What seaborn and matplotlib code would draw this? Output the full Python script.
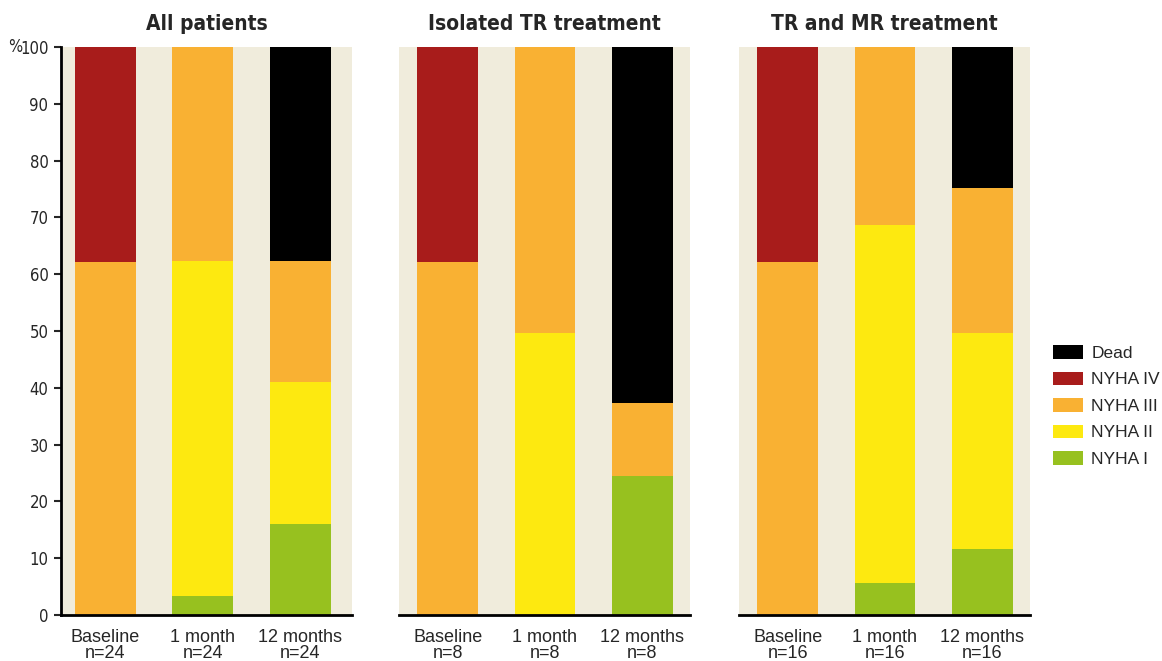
import matplotlib
matplotlib.use("Agg")
import matplotlib.pyplot as plt
import seaborn as sns
import pandas as pd
import numpy as np
from matplotlib.patches import Patch

# values (percent of patients)
timepoints = ["Baseline", "1 month", "12 months"]
panels = ["All patients", "Isolated TR treatment", "TR and MR treatment"]
n_labels = [["n=24", "n=24", "n=24"], ["n=8", "n=8", "n=8"], ["n=16", "n=16", "n=16"]]
classes = ["NYHA I", "NYHA II", "NYHA III", "NYHA IV", "Dead"]

all_I = [0, 3.4, 16.0]
all_II = [0, 59.0, 25.1]
all_III = [62.1, 37.6, 21.3]
all_IV = [37.9, 0, 0]
all_dead = [0, 0, 37.6]

iso_I = [0, 0, 24.5]
iso_II = [0, 49.7, 0]
iso_III = [62.1, 50.3, 12.9]
iso_IV = [37.9, 0, 0]
iso_dead = [0, 0, 62.6]

mr_I = [0, 5.6, 11.6]
mr_II = [0, 63.0, 38.1]
mr_III = [62.1, 31.4, 25.4]
mr_IV = [37.9, 0, 0]
mr_dead = [0, 0, 24.9]

panel_data = [
    [all_I, all_II, all_III, all_IV, all_dead],
    [iso_I, iso_II, iso_III, iso_IV, iso_dead],
    [mr_I, mr_II, mr_III, mr_IV, mr_dead],
]

colors = {"NYHA I": "#97c11f", "NYHA II": "#fde910", "NYHA III": "#f9b133",
          "NYHA IV": "#a81c1b", "Dead": "#000000"}
bg = "#f0ecdc"

sns.set_style("white")
plt.rcParams["font.family"] = ["Liberation Sans", "DejaVu Sans"]
cond = dict(family="DejaVu Sans", stretch="condensed")

fig = plt.figure(figsize=(11.62, 6.61), dpi=100)
lefts = [61 / 1162, 399 / 1162, 739 / 1162]
bottom = 46 / 661
height = 568 / 661
width = 291 / 1162
xlims = [(-0.455, 2.53), (-0.5, 2.49), (-0.5, 2.49)]

for i, (title, vals) in enumerate(zip(panels, panel_data)):
    ax = fig.add_axes([lefts[i], bottom, width, height])
    ax.set_facecolor(bg)
    df = pd.DataFrame({"time": timepoints})
    cum = np.zeros(3)
    for cls, v in zip(classes, vals):
        cum = cum + np.array(v, dtype=float)
        df[cls] = cum
    # draw cumulative bars from the top of the stack down
    for cls in classes[::-1]:
        sns.barplot(data=df, x="time", y=cls, color=colors[cls], ax=ax,
                    width=0.626, saturation=1, linewidth=0, errorbar=None)
    ax.set_xlim(*xlims[i])
    ax.set_ylim(0, 100)
    ax.set_xlabel("")
    ax.set_ylabel("")
    ax.set_title(title, fontsize=15, fontweight="bold", pad=12, **cond)
    ax.set_xticks(range(3))
    ax.set_xticklabels([f"{t}\n{n}" for t, n in zip(timepoints, n_labels[i])],
                       fontsize=13, linespacing=0.95)
    ax.tick_params(axis="x", length=0, pad=10)
    for s in ["top", "right"]:
        ax.spines[s].set_visible(False)
    ax.spines["bottom"].set_color("black")
    ax.spines["bottom"].set_linewidth(2)
    if i == 0:
        ax.spines["left"].set_color("black")
        ax.spines["left"].set_linewidth(2)
        ax.set_yticks(range(0, 101, 10))
        ax.set_yticklabels([str(t) for t in range(0, 101, 10)], fontsize=12, **cond)
        ax.tick_params(axis="y", length=5, width=1.5, direction="out", left=True, pad=4)
        ax.text(-0.134, 1.0, "%", transform=ax.transAxes, ha="right", va="center",
                fontsize=12, **cond)
    else:
        ax.spines["left"].set_visible(False)
        ax.set_yticks([])

handles = [Patch(facecolor=colors[c], edgecolor="none") for c in classes[::-1]]
fig.legend(handles, classes[::-1], loc="upper left", bbox_to_anchor=(1053 / 1162, 1 - 345 / 661),
           frameon=False, fontsize=12.5, handlelength=1.75, handleheight=0.82,
           labelspacing=0.62, handletextpad=0.45, borderpad=0, borderaxespad=0)

fig.savefig("out.png", dpi=100)
